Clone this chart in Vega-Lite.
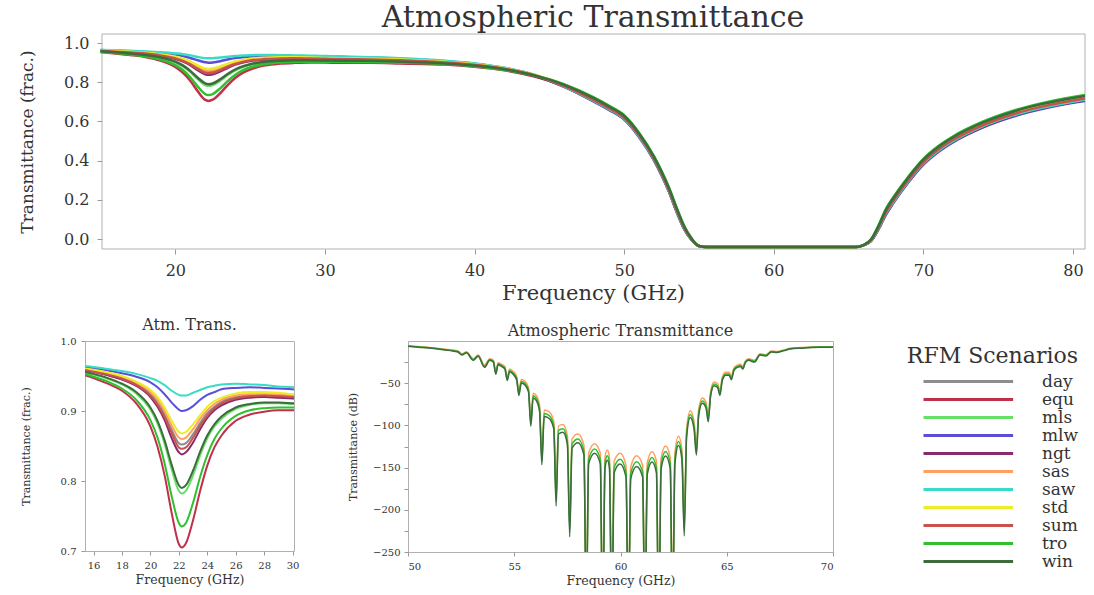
{
  "$schema": "https://vega.github.io/schema/vega-lite/v6.json",
  "background": "white",
  "padding": {"left": 18, "top": 2, "right": 5, "bottom": 2},
  "config": {
    "font": "DejaVu Serif",
    "view": {"stroke": "#b0b0b0", "strokeWidth": 1},
    "axis": {"labelFont": "DejaVu Serif", "titleFont": "DejaVu Serif", "labelColor": "#333333", "titleColor": "#333333", "titleFontWeight": "normal", "domain": false, "grid": false, "tickColor": "#999999"},
    "title": {"font": "DejaVu Serif", "fontWeight": "normal", "color": "#333333", "anchor": "middle"}
  },
  "datasets": {
    "trans": [
      {"f":15,"day":0.962,"equ":0.954,"mls":0.957,"mlw":0.964,"ngt":0.960,"sas":0.962,"saw":0.965,"std":0.962,"sum":0.960,"tro":0.955,"win":0.958},
      {"f":16,"day":0.958,"equ":0.947,"mls":0.952,"mlw":0.961,"ngt":0.956,"sas":0.958,"saw":0.963,"std":0.959,"sum":0.956,"tro":0.949,"win":0.953},
      {"f":17,"day":0.953,"equ":0.939,"mls":0.946,"mlw":0.958,"ngt":0.951,"sas":0.954,"saw":0.960,"std":0.955,"sum":0.952,"tro":0.942,"win":0.947},
      {"f":18,"day":0.948,"equ":0.929,"mls":0.938,"mlw":0.954,"ngt":0.945,"sas":0.949,"saw":0.957,"std":0.950,"sum":0.946,"tro":0.932,"win":0.939},
      {"f":19,"day":0.939,"equ":0.911,"mls":0.925,"mlw":0.949,"ngt":0.936,"sas":0.941,"saw":0.953,"std":0.942,"sum":0.937,"tro":0.916,"win":0.927},
      {"f":20,"day":0.925,"equ":0.878,"mls":0.902,"mlw":0.941,"ngt":0.920,"sas":0.927,"saw":0.947,"std":0.930,"sum":0.922,"tro":0.887,"win":0.905},
      {"f":20.5,"day":0.912,"equ":0.849,"mls":0.882,"mlw":0.934,"ngt":0.906,"sas":0.916,"saw":0.943,"std":0.920,"sum":0.909,"tro":0.862,"win":0.886},
      {"f":21,"day":0.895,"equ":0.808,"mls":0.853,"mlw":0.924,"ngt":0.887,"sas":0.900,"saw":0.937,"std":0.905,"sum":0.891,"tro":0.825,"win":0.858},
      {"f":21.5,"day":0.873,"equ":0.754,"mls":0.816,"mlw":0.912,"ngt":0.861,"sas":0.879,"saw":0.929,"std":0.886,"sum":0.868,"tro":0.778,"win":0.823},
      {"f":22,"day":0.854,"equ":0.710,"mls":0.786,"mlw":0.902,"ngt":0.841,"sas":0.862,"saw":0.923,"std":0.870,"sum":0.848,"tro":0.740,"win":0.794},
      {"f":22.2,"day":0.852,"equ":0.705,"mls":0.782,"mlw":0.900,"ngt":0.838,"sas":0.860,"saw":0.922,"std":0.868,"sum":0.846,"tro":0.735,"win":0.790},
      {"f":22.5,"day":0.854,"equ":0.711,"mls":0.786,"mlw":0.901,"ngt":0.841,"sas":0.862,"saw":0.922,"std":0.870,"sum":0.848,"tro":0.740,"win":0.794},
      {"f":23,"day":0.867,"equ":0.744,"mls":0.808,"mlw":0.907,"ngt":0.855,"sas":0.874,"saw":0.926,"std":0.881,"sum":0.862,"tro":0.769,"win":0.815},
      {"f":23.5,"day":0.883,"equ":0.786,"mls":0.837,"mlw":0.916,"ngt":0.874,"sas":0.889,"saw":0.930,"std":0.894,"sum":0.879,"tro":0.806,"win":0.842},
      {"f":24,"day":0.897,"equ":0.822,"mls":0.861,"mlw":0.923,"ngt":0.890,"sas":0.901,"saw":0.934,"std":0.906,"sum":0.893,"tro":0.837,"win":0.865},
      {"f":24.5,"day":0.906,"equ":0.848,"mls":0.878,"mlw":0.927,"ngt":0.901,"sas":0.910,"saw":0.936,"std":0.914,"sum":0.904,"tro":0.860,"win":0.881},
      {"f":25,"day":0.913,"equ":0.865,"mls":0.889,"mlw":0.931,"ngt":0.908,"sas":0.916,"saw":0.938,"std":0.919,"sum":0.911,"tro":0.875,"win":0.892},
      {"f":26,"day":0.920,"equ":0.886,"mls":0.903,"mlw":0.933,"ngt":0.916,"sas":0.922,"saw":0.939,"std":0.925,"sum":0.918,"tro":0.893,"win":0.905},
      {"f":27,"day":0.923,"equ":0.895,"mls":0.909,"mlw":0.934,"ngt":0.919,"sas":0.924,"saw":0.938,"std":0.927,"sum":0.921,"tro":0.901,"win":0.910},
      {"f":28,"day":0.923,"equ":0.899,"mls":0.911,"mlw":0.933,"ngt":0.920,"sas":0.924,"saw":0.937,"std":0.927,"sum":0.922,"tro":0.904,"win":0.912},
      {"f":29,"day":0.922,"equ":0.901,"mls":0.911,"mlw":0.932,"ngt":0.919,"sas":0.924,"saw":0.935,"std":0.926,"sum":0.921,"tro":0.905,"win":0.912},
      {"f":30,"day":0.921,"equ":0.901,"mls":0.910,"mlw":0.931,"ngt":0.918,"sas":0.922,"saw":0.934,"std":0.924,"sum":0.920,"tro":0.905,"win":0.911},
      {"f":31,"day":0.919,"equ":0.899,"mls":0.908,"mlw":0.929,"ngt":0.917,"sas":0.920,"saw":0.932,"std":0.923,"sum":0.918,"tro":0.904,"win":0.910},
      {"f":33,"day":0.917,"equ":0.899,"mls":0.907,"mlw":0.926,"ngt":0.915,"sas":0.918,"saw":0.928,"std":0.920,"sum":0.916,"tro":0.903,"win":0.909},
      {"f":35,"day":0.912,"equ":0.896,"mls":0.904,"mlw":0.920,"ngt":0.911,"sas":0.913,"saw":0.923,"std":0.916,"sum":0.912,"tro":0.900,"win":0.905},
      {"f":38,"day":0.902,"equ":0.890,"mls":0.895,"mlw":0.908,"ngt":0.901,"sas":0.902,"saw":0.910,"std":0.904,"sum":0.901,"tro":0.893,"win":0.896},
      {"f":40,"day":0.890,"equ":0.879,"mls":0.884,"mlw":0.895,"ngt":0.889,"sas":0.890,"saw":0.896,"std":0.892,"sum":0.889,"tro":0.882,"win":0.885},
      {"f":42,"day":0.869,"equ":0.861,"mls":0.865,"mlw":0.873,"ngt":0.868,"sas":0.870,"saw":0.874,"std":0.871,"sum":0.869,"tro":0.863,"win":0.866},
      {"f":44,"day":0.836,"equ":0.829,"mls":0.836,"mlw":0.837,"ngt":0.833,"sas":0.837,"saw":0.839,"std":0.838,"sum":0.836,"tro":0.834,"win":0.835},
      {"f":46,"day":0.782,"equ":0.780,"mls":0.788,"mlw":0.776,"ngt":0.777,"sas":0.783,"saw":0.778,"std":0.784,"sum":0.781,"tro":0.789,"win":0.787},
      {"f":48,"day":0.710,"equ":0.706,"mls":0.720,"mlw":0.700,"ngt":0.702,"sas":0.712,"saw":0.704,"std":0.714,"sum":0.708,"tro":0.722,"win":0.718},
      {"f":49,"day":0.668,"equ":0.664,"mls":0.678,"mlw":0.658,"ngt":0.660,"sas":0.670,"saw":0.662,"std":0.672,"sum":0.666,"tro":0.680,"win":0.676},
      {"f":50,"day":0.620,"equ":0.616,"mls":0.630,"mlw":0.610,"ngt":0.612,"sas":0.622,"saw":0.614,"std":0.624,"sum":0.618,"tro":0.632,"win":0.628},
      {"f":51,"day":0.530,"equ":0.526,"mls":0.540,"mlw":0.520,"ngt":0.522,"sas":0.532,"saw":0.524,"std":0.534,"sum":0.528,"tro":0.542,"win":0.538},
      {"f":52,"day":0.410,"equ":0.406,"mls":0.420,"mlw":0.400,"ngt":0.402,"sas":0.412,"saw":0.404,"std":0.414,"sum":0.408,"tro":0.422,"win":0.418},
      {"f":52.5,"day":0.335,"equ":0.331,"mls":0.345,"mlw":0.325,"ngt":0.327,"sas":0.337,"saw":0.329,"std":0.339,"sum":0.333,"tro":0.347,"win":0.343},
      {"f":53,"day":0.250,"equ":0.246,"mls":0.260,"mlw":0.240,"ngt":0.242,"sas":0.252,"saw":0.244,"std":0.254,"sum":0.248,"tro":0.262,"win":0.258},
      {"f":53.5,"day":0.150,"equ":0.146,"mls":0.160,"mlw":0.140,"ngt":0.142,"sas":0.152,"saw":0.144,"std":0.154,"sum":0.148,"tro":0.162,"win":0.158},
      {"f":54,"day":0.060,"equ":0.057,"mls":0.068,"mlw":0.052,"ngt":0.054,"sas":0.062,"saw":0.055,"std":0.063,"sum":0.058,"tro":0.070,"win":0.066},
      {"f":54.5,"day":0.000,"equ":-0.002,"mls":0.004,"mlw":-0.004,"ngt":-0.003,"sas":0.001,"saw":-0.002,"std":0.002,"sum":-0.001,"tro":0.005,"win":0.003},
      {"f":55,"day":-0.035,"equ":-0.035,"mls":-0.035,"mlw":-0.035,"ngt":-0.035,"sas":-0.035,"saw":-0.035,"std":-0.035,"sum":-0.035,"tro":-0.035,"win":-0.035},
      {"f":55.5,"day":-0.04,"equ":-0.04,"mls":-0.04,"mlw":-0.04,"ngt":-0.04,"sas":-0.04,"saw":-0.04,"std":-0.04,"sum":-0.04,"tro":-0.04,"win":-0.04},
      {"f":60,"day":-0.04,"equ":-0.04,"mls":-0.04,"mlw":-0.04,"ngt":-0.04,"sas":-0.04,"saw":-0.04,"std":-0.04,"sum":-0.04,"tro":-0.04,"win":-0.04},
      {"f":65.5,"day":-0.04,"equ":-0.04,"mls":-0.04,"mlw":-0.04,"ngt":-0.04,"sas":-0.04,"saw":-0.04,"std":-0.04,"sum":-0.04,"tro":-0.04,"win":-0.04},
      {"f":66,"day":-0.03,"equ":-0.03,"mls":-0.03,"mlw":-0.03,"ngt":-0.03,"sas":-0.03,"saw":-0.03,"std":-0.03,"sum":-0.03,"tro":-0.03,"win":-0.03},
      {"f":66.5,"day":-0.005,"equ":-0.007,"mls":-0.001,"mlw":-0.010,"ngt":-0.009,"sas":-0.004,"saw":-0.008,"std":-0.004,"sum":-0.006,"tro":-0.001,"win":-0.002},
      {"f":67,"day":0.060,"equ":0.056,"mls":0.068,"mlw":0.050,"ngt":0.052,"sas":0.062,"saw":0.054,"std":0.064,"sum":0.058,"tro":0.070,"win":0.067},
      {"f":67.5,"day":0.140,"equ":0.134,"mls":0.152,"mlw":0.125,"ngt":0.128,"sas":0.143,"saw":0.131,"std":0.145,"sum":0.137,"tro":0.155,"win":0.150},
      {"f":68,"day":0.200,"equ":0.194,"mls":0.212,"mlw":0.185,"ngt":0.188,"sas":0.203,"saw":0.191,"std":0.205,"sum":0.197,"tro":0.215,"win":0.210},
      {"f":69,"day":0.305,"equ":0.299,"mls":0.317,"mlw":0.290,"ngt":0.293,"sas":0.308,"saw":0.296,"std":0.310,"sum":0.302,"tro":0.320,"win":0.315},
      {"f":70,"day":0.395,"equ":0.389,"mls":0.407,"mlw":0.380,"ngt":0.383,"sas":0.398,"saw":0.386,"std":0.400,"sum":0.392,"tro":0.410,"win":0.405},
      {"f":71,"day":0.460,"equ":0.454,"mls":0.472,"mlw":0.445,"ngt":0.448,"sas":0.463,"saw":0.451,"std":0.465,"sum":0.457,"tro":0.475,"win":0.470},
      {"f":72,"day":0.510,"equ":0.504,"mls":0.522,"mlw":0.495,"ngt":0.498,"sas":0.513,"saw":0.501,"std":0.515,"sum":0.507,"tro":0.525,"win":0.520},
      {"f":74,"day":0.585,"equ":0.579,"mls":0.597,"mlw":0.570,"ngt":0.573,"sas":0.588,"saw":0.576,"std":0.590,"sum":0.582,"tro":0.600,"win":0.595},
      {"f":76,"day":0.640,"equ":0.634,"mls":0.652,"mlw":0.625,"ngt":0.628,"sas":0.643,"saw":0.631,"std":0.645,"sum":0.637,"tro":0.655,"win":0.650},
      {"f":78,"day":0.680,"equ":0.674,"mls":0.692,"mlw":0.665,"ngt":0.668,"sas":0.683,"saw":0.671,"std":0.685,"sum":0.677,"tro":0.695,"win":0.690},
      {"f":80,"day":0.710,"equ":0.704,"mls":0.722,"mlw":0.695,"ngt":0.698,"sas":0.713,"saw":0.701,"std":0.715,"sum":0.707,"tro":0.725,"win":0.720},
      {"f":80.8,"day":0.720,"equ":0.714,"mls":0.732,"mlw":0.705,"ngt":0.708,"sas":0.723,"saw":0.711,"std":0.725,"sum":0.717,"tro":0.735,"win":0.730}
    ],
    "db": [
      {"f":50.0,"sas":-5.7,"tro":-6,"win":-6.2},
      {"f":50.5,"sas":-6.6,"tro":-7,"win":-7.3},
      {"f":51.0,"sas":-7.6,"tro":-8,"win":-8.3},
      {"f":51.5,"sas":-9,"tro":-9.5,"win":-9.9},
      {"f":52.0,"sas":-10.4,"tro":-11,"win":-11.4},
      {"f":52.35,"sas":-11.9,"tro":-12.5,"win":-13},
      {"f":52.54,"sas":-15.2,"tro":-16,"win":-16.6},
      {"f":52.75,"sas":-12.8,"tro":-13.5,"win":-14},
      {"f":53.07,"sas":-20.9,"tro":-22,"win":-22.9},
      {"f":53.3,"sas":-16.6,"tro":-17.5,"win":-18.2},
      {"f":53.6,"sas":-28.5,"tro":-30,"win":-31.2},
      {"f":53.85,"sas":-20.9,"tro":-22,"win":-22.9},
      {"f":54.02,"sas":-22.8,"tro":-24,"win":-25},
      {"f":54.13,"sas":-36.1,"tro":-38,"win":-39.5},
      {"f":54.24,"sas":-25.7,"tro":-27,"win":-28.1},
      {"f":54.4,"sas":-27.6,"tro":-29,"win":-30.2},
      {"f":54.56,"sas":-30.4,"tro":-32,"win":-33.3},
      {"f":54.67,"sas":-42.8,"tro":-45,"win":-46.8},
      {"f":54.78,"sas":-33.3,"tro":-35,"win":-36.4},
      {"f":54.95,"sas":-36.1,"tro":-38,"win":-39.5},
      {"f":55.11,"sas":-41.8,"tro":-44,"win":-45.8},
      {"f":55.22,"sas":-58.9,"tro":-62,"win":-64.5},
      {"f":55.33,"sas":-45.6,"tro":-48,"win":-49.9},
      {"f":55.5,"sas":-47.5,"tro":-50,"win":-52},
      {"f":55.67,"sas":-55.1,"tro":-58,"win":-60.3},
      {"f":55.78,"sas":-92.2,"tro":-97,"win":-100.9},
      {"f":55.89,"sas":-61.8,"tro":-65,"win":-67.6},
      {"f":56.04,"sas":-64.6,"tro":-68,"win":-70.7},
      {"f":56.19,"sas":-76,"tro":-80,"win":-83.2},
      {"f":56.3,"sas":-134,"tro":-141,"win":-146.6},
      {"f":56.41,"sas":-81.7,"tro":-86,"win":-89.4},
      {"f":56.63,"sas":-83.6,"tro":-88,"win":-91.5},
      {"f":56.86,"sas":-95,"tro":-100,"win":-104},
      {"f":56.97,"sas":-178.6,"tro":-188,"win":-195.5},
      {"f":57.08,"sas":-100.7,"tro":-106,"win":-110.2},
      {"f":57.29,"sas":-98.8,"tro":-104,"win":-108.2},
      {"f":57.5,"sas":-112.1,"tro":-118,"win":-122.7},
      {"f":57.61,"sas":-211.9,"tro":-223,"win":-231.9},
      {"f":57.72,"sas":-115.9,"tro":-122,"win":-126.9},
      {"f":58.0,"sas":-110.2,"tro":-116,"win":-120.6},
      {"f":58.28,"sas":-123.5,"tro":-130,"win":-135.2},
      {"f":58.39,"sas":-304,"tro":-320,"win":-333},
      {"f":58.5,"sas":-133,"tro":-140,"win":-145.6},
      {"f":58.78,"sas":-121.6,"tro":-128,"win":-133.1},
      {"f":59.05,"sas":-133,"tro":-140,"win":-145.6},
      {"f":59.16,"sas":-323,"tro":-340,"win":-354},
      {"f":59.27,"sas":-137.8,"tro":-145,"win":-150.8},
      {"f":59.38,"sas":-129.2,"tro":-136,"win":-141.4},
      {"f":59.48,"sas":-137.8,"tro":-145,"win":-150.8},
      {"f":59.59,"sas":-323,"tro":-340,"win":-354},
      {"f":59.7,"sas":-142.5,"tro":-150,"win":-156},
      {"f":59.98,"sas":-133,"tro":-140,"win":-145.6},
      {"f":60.26,"sas":-147.3,"tro":-155,"win":-161.2},
      {"f":60.37,"sas":-323,"tro":-340,"win":-354},
      {"f":60.48,"sas":-149.2,"tro":-157,"win":-163.3},
      {"f":60.76,"sas":-135.9,"tro":-143,"win":-148.7},
      {"f":61.04,"sas":-147.3,"tro":-155,"win":-161.2},
      {"f":61.15,"sas":-323,"tro":-340,"win":-354},
      {"f":61.26,"sas":-144.4,"tro":-152,"win":-158.1},
      {"f":61.48,"sas":-131.1,"tro":-138,"win":-143.5},
      {"f":61.69,"sas":-142.5,"tro":-150,"win":-156},
      {"f":61.8,"sas":-323,"tro":-340,"win":-354},
      {"f":61.91,"sas":-138.7,"tro":-146,"win":-151.8},
      {"f":62.12,"sas":-124.5,"tro":-131,"win":-136.2},
      {"f":62.34,"sas":-137.8,"tro":-145,"win":-150.8},
      {"f":62.45,"sas":-313.5,"tro":-330,"win":-343.2},
      {"f":62.56,"sas":-133,"tro":-140,"win":-145.6},
      {"f":62.73,"sas":-113,"tro":-119,"win":-123.8},
      {"f":62.89,"sas":-128.3,"tro":-135,"win":-140.4},
      {"f":63.0,"sas":-210.9,"tro":-222,"win":-230.9},
      {"f":63.11,"sas":-104.5,"tro":-110,"win":-114.4},
      {"f":63.28,"sas":-82.7,"tro":-87,"win":-90.5},
      {"f":63.46,"sas":-95,"tro":-100,"win":-104},
      {"f":63.57,"sas":-123.5,"tro":-130,"win":-135.2},
      {"f":63.68,"sas":-80.8,"tro":-85,"win":-88.4},
      {"f":63.85,"sas":-67.5,"tro":-71,"win":-73.8},
      {"f":64.02,"sas":-72.2,"tro":-76,"win":-79},
      {"f":64.13,"sas":-87.4,"tro":-92,"win":-95.7},
      {"f":64.24,"sas":-59.9,"tro":-63,"win":-65.5},
      {"f":64.4,"sas":-48.5,"tro":-51,"win":-53},
      {"f":64.57,"sas":-50.4,"tro":-53,"win":-55.1},
      {"f":64.68,"sas":-58.9,"tro":-62,"win":-64.5},
      {"f":64.79,"sas":-42.8,"tro":-45,"win":-46.8},
      {"f":64.95,"sas":-37.1,"tro":-39,"win":-40.6},
      {"f":65.11,"sas":-37.1,"tro":-39,"win":-40.6},
      {"f":65.22,"sas":-41.8,"tro":-44,"win":-45.8},
      {"f":65.33,"sas":-32.3,"tro":-34,"win":-35.4},
      {"f":65.5,"sas":-28.5,"tro":-30,"win":-31.2},
      {"f":65.65,"sas":-27.6,"tro":-29,"win":-30.2},
      {"f":65.76,"sas":-30.4,"tro":-32,"win":-33.3},
      {"f":65.87,"sas":-23.8,"tro":-25,"win":-26},
      {"f":66.03,"sas":-20.9,"tro":-22,"win":-22.9},
      {"f":66.3,"sas":-22.8,"tro":-24,"win":-25},
      {"f":66.57,"sas":-15.2,"tro":-16,"win":-16.6},
      {"f":66.84,"sas":-16.2,"tro":-17,"win":-17.7},
      {"f":67.1,"sas":-11.9,"tro":-12.5,"win":-13},
      {"f":67.37,"sas":-12.4,"tro":-13,"win":-13.5},
      {"f":67.7,"sas":-10.5,"tro":-11,"win":-11.4},
      {"f":68.0,"sas":-8.6,"tro":-9,"win":-9.4},
      {"f":68.5,"sas":-7.8,"tro":-8.2,"win":-8.5},
      {"f":69.0,"sas":-7.1,"tro":-7.5,"win":-7.8},
      {"f":69.5,"sas":-6.8,"tro":-7.2,"win":-7.5},
      {"f":70.0,"sas":-6.7,"tro":-7,"win":-7.3}
    ]
  },
  "spacing": 13,
  "vconcat": [
    {
      "width": 1000,
      "height": 215,
      "view": {"stroke": null},
      "title": {"text": "Atmospheric Transmittance", "fontSize": 30, "offset": 1, "dx": 8},
      "layer": [
        {
          "data": {"values": [{"frame": 1}]},
          "mark": {"type": "rect", "filled": false, "stroke": "#b0b0b0", "strokeWidth": 1},
          "encoding": {
            "x": {"datum": 15.1, "type": "quantitative"},
            "x2": {"datum": 80.8},
            "y": {"datum": -0.05, "type": "quantitative"},
            "y2": {"datum": 1.046}
          }
        },
        {
          "data": {"name": "trans"},
          "transform": [{"fold": ["day","equ","mls","mlw","ngt","sas","saw","std","sum","tro","win"], "as": ["scenario","T"]}],
          "mark": {"type": "line", "strokeWidth": 2.5, "interpolate": "monotone", "clip": true},
          "encoding": {
            "x": {"field": "f", "type": "quantitative", "scale": {"domain": [15.1, 80.8], "range": [17, 1000], "nice": false, "zero": false},
                  "axis": {"values": [20,30,40,50,60,70,80], "title": "Frequency (GHz)", "titleX": 508, "labelFontSize": 16, "titleFontSize": 21, "tickSize": 5, "labelPadding": 8, "titlePadding": 4}},
            "y": {"field": "T", "type": "quantitative", "scale": {"domain": [-0.05, 1.046], "nice": false, "zero": false},
                  "axis": {"values": [0,0.2,0.4,0.6,0.8,1.0], "format": ".1f", "title": "Transmittance (frac.)", "offset": -17, "labelFontSize": 16, "titleFontSize": 17, "tickSize": 5, "labelPadding": 8, "titlePadding": 27}},
            "color": {"field": "scenario", "type": "nominal",
                      "scale": {"domain": ["day","equ","mls","mlw","ngt","sas","saw","std","sum","tro","win"],
                                "range": ["#8c8c8c","#c0304a","#66e066","#5b4fd8","#8b2a6b","#ffa060","#38dcc4","#ecec28","#c8524c","#2fbf2f","#3d6b3d"]},
                      "legend": {"title": "RFM Scenarios", "orient": "none", "legendX": 822, "legendY": 312,
                                 "symbolType": "M0,0H12.8", "symbolSize": 196, "symbolStrokeWidth": 3,
                                 "labelOffset": 110, "labelFontSize": 17, "labelFont": "DejaVu Serif", "labelColor": "#333333", "labelLimit": 200,
                                 "titleFontSize": 22, "titleFont": "DejaVu Serif", "titleFontWeight": "normal", "titleColor": "#333333",
                                 "titleAnchor": "end", "titlePadding": 5, "rowPadding": 0}}
          }
        }
      ]
    },
    {
      "spacing": 47,
      "hconcat": [
        {
          "width": 209,
          "height": 210,
          "title": {"text": "Atm. Trans.", "fontSize": 16, "offset": 3},
          "data": {"name": "trans"},
          "transform": [{"fold": ["day","equ","mls","mlw","ngt","sas","saw","std","sum","tro","win"], "as": ["scenario","T"]}],
          "mark": {"type": "line", "strokeWidth": 2, "interpolate": "monotone", "clip": true},
          "encoding": {
            "x": {"field": "f", "type": "quantitative", "scale": {"domain": [15.4, 30.1], "nice": false, "zero": false},
                  "axis": {"values": [16,18,20,22,24,26,28,30], "title": "Frequency (GHz)", "labelFontSize": 10, "titleFontSize": 12.5, "tickSize": 4, "labelPadding": 5, "titlePadding": 3}},
            "y": {"field": "T", "type": "quantitative", "scale": {"domain": [0.7, 1.0], "nice": false, "zero": false},
                  "axis": {"values": [0.7,0.8,0.9,1.0], "format": ".1f", "title": "Transmittance (frac.)", "labelFontSize": 10, "titleFontSize": 11, "tickSize": 4, "labelPadding": 5, "titlePadding": 29}},
            "color": {"field": "scenario", "type": "nominal"}
          }
        },
        {
          "width": 425,
          "height": 211,
          "title": {"text": "Atmospheric Transmittance", "fontSize": 16, "offset": 2},
          "data": {"name": "db"},
          "transform": [{"fold": ["sas","tro","win"], "as": ["scenario","dB"]}],
          "mark": {"type": "line", "strokeWidth": 1.5, "interpolate": "monotone", "clip": true},
          "encoding": {
            "x": {"field": "f", "type": "quantitative", "scale": {"domain": [50, 70], "nice": false, "zero": false},
                  "axis": {"values": [50,55,60,65,70], "title": "Frequency (GHz)", "labelFontSize": 10, "titleFontSize": 12.5, "tickSize": 4, "labelPadding": 5, "titlePadding": 3}},
            "y": {"field": "dB", "type": "quantitative", "scale": {"domain": [-250, 0], "nice": false, "zero": false},
                  "axis": {"values": [-250,-225,-200,-175,-150,-125,-100,-75,-50,-25], "labelExpr": "datum.value % 50 === 0 ? datum.label : ''", "title": "Transmittance (dB)", "labelFontSize": 10, "titleFontSize": 11, "tickSize": 4, "labelPadding": 4, "titlePadding": 14}},
            "color": {"field": "scenario", "type": "nominal"}
          }
        }
      ]
    }
  ]
}
